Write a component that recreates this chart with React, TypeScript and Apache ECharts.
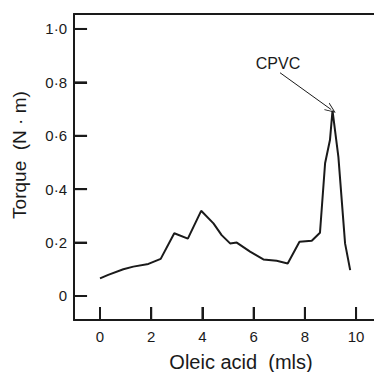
import React, { useEffect, useRef } from "react";
import * as echarts from "echarts";

const oleicAcid = [0, 0.32, 0.91, 1.3, 1.89, 2.37, 2.9, 3.43, 3.95, 4.43, 4.75, 5.08, 5.34, 5.86, 6.38, 6.9, 7.33, 7.79, 8.27, 8.59, 8.79, 8.98, 9.08, 9.31, 9.57, 9.77];
const torque = [0.066, 0.079, 0.1, 0.11, 0.12, 0.139, 0.235, 0.215, 0.319, 0.272, 0.228, 0.197, 0.2, 0.166, 0.137, 0.132, 0.122, 0.203, 0.207, 0.237, 0.497, 0.584, 0.694, 0.52, 0.197, 0.097];
const xTicks = [0, 2, 4, 6, 8, 10];
const yTicks = [0, 0.2, 0.4, 0.6, 0.8, 1.0];
const arrowStart = [7.03, 0.836];
const arrowEnd = [9.03, 0.698];
const annotation = "CPVC";

const X_MIN = -1.016;
const X_MAX = 10.7;
const Y_MIN = -0.0899;
const Y_MAX = 1.056;
const X_TICK_LEN = 0.049; // y units, ~13px
const Y_TICK_LEN = 0.51; // x units, ~13px
const EPS_X = 0.01;
const EPS_Y = 0.0005;

const FONT = "'Liberation Sans', Arial, sans-serif";
const INK = "#1a1a1a";
const ARROW = "path://M0,0 L6,12 L4.8,12 L0,2.4 L-4.8,12 L-6,12 Z";

export default function App() {
  const ref = useRef<HTMLDivElement>(null);
  useEffect(() => {
    if (!ref.current) return;
    const chart = echarts.init(ref.current, null, { renderer: "svg" });
    const tickStyle = { color: INK, width: 2, type: "solid" };
    const tickSegments = [
      ...xTicks.map((t) => [
        { coord: [t, Y_MIN + EPS_Y], lineStyle: tickStyle, symbol: "none" },
        { coord: [t, Y_MIN + X_TICK_LEN], symbol: "none" },
      ]),
      ...yTicks.map((t) => [
        { coord: [X_MIN + EPS_X, t], lineStyle: tickStyle, symbol: "none" },
        { coord: [X_MIN + Y_TICK_LEN, t], symbol: "none" },
      ]),
    ];
    const arrowSegment = [
      { coord: arrowStart, symbol: "none", lineStyle: { color: INK, width: 1, type: "solid" } },
      { coord: arrowEnd, symbol: ARROW, symbolSize: [9, 11] },
    ];
    const tickData = [...xTicks.map((t) => [t, 0, 0]), ...yTicks.map((t) => [0, t, 1])];
    chart.setOption({
      animation: false,
      backgroundColor: "#fff",
      grid: { left: 74, top: 14, right: 0, bottom: 52 },
      xAxis: [
        {
          type: "value",
          min: X_MIN,
          max: X_MAX,
          splitLine: { show: false },
          axisLine: { show: true, onZero: false, lineStyle: { color: INK, width: 2 } },
          axisTick: { show: true, inside: true, length: 13, customValues: xTicks, lineStyle: { color: INK, width: 2 } },
          axisLabel: {
            customValues: xTicks,
            color: INK,
            fontSize: 15,
            fontFamily: FONT,
            margin: 9,
            formatter: (v: number) => String(Math.round(v)),
          },
        },
        {
          type: "value",
          position: "top",
          min: X_MIN,
          max: X_MAX,
          splitLine: { show: false },
          axisLine: { show: true, onZero: false, lineStyle: { color: INK, width: 2 } },
          axisTick: { show: false },
          axisLabel: { show: false },
        },
      ],
      yAxis: {
        type: "value",
        min: Y_MIN,
        max: Y_MAX,
        splitLine: { show: false },
        axisLine: { show: true, onZero: false, lineStyle: { color: INK, width: 2 } },
        axisTick: { show: true, inside: true, length: 13, customValues: yTicks, lineStyle: { color: INK, width: 2 } },
        axisLabel: {
          customValues: yTicks,
          color: INK,
          fontSize: 15,
          fontFamily: FONT,
          margin: 7,
          formatter: (v: number) => (Math.abs(v) < 1e-9 ? "0" : v.toFixed(1).replace(".", "·")),
        },
      },
      series: [
        {
          type: "line",
          data: oleicAcid.map((x, i) => [x, torque[i]]),
          showSymbol: false,
          symbol: "none",
          lineStyle: { color: INK, width: 2 },
          markLine: {
            silent: true,
            animation: false,
            symbol: ["none", "none"],
            label: { show: false },
            lineStyle: { color: INK, width: 2, type: "solid" },
            data: [arrowSegment, ...tickSegments],
          },
        },
        {
          type: "custom",
          silent: true,
          clip: false,
          z: 5,
          data: tickData,
          renderItem: (params: any, api: any) => {
            const kind = api.value(2);
            const p = api.coord([api.value(0), api.value(1)]);
            const cs = params.coordSys;
            const len = 13;
            const shape =
              kind === 0
                ? { x1: p[0], y1: cs.y + cs.height, x2: p[0], y2: cs.y + cs.height - len }
                : { x1: cs.x, y1: p[1], x2: cs.x + len, y2: p[1] };
            return { type: "line", shape, style: { stroke: INK, lineWidth: 2 } };
          },
        },
      ],
      graphic: [
        {
          type: "text",
          x: 278,
          y: 63,
          style: { text: annotation, fill: INK, font: `16px ${FONT}`, align: "center", verticalAlign: "middle" },
        },
        {
          type: "text",
          x: 19,
          y: 155,
          rotation: Math.PI / 2,
          style: { text: "Torque  (N · m)", fill: INK, font: `19px ${FONT}`, align: "center", verticalAlign: "middle" },
        },
        {
          type: "text",
          x: 241,
          y: 362,
          style: { text: "Oleic acid  (mls)", fill: INK, font: `20px ${FONT}`, align: "center", verticalAlign: "middle" },
        },
      ],
    });
    return () => chart.dispose();
  }, []);
  return <div ref={ref} style={{ width: 374, height: 372, position: "absolute", left: 0, top: 0 }} />;
}
